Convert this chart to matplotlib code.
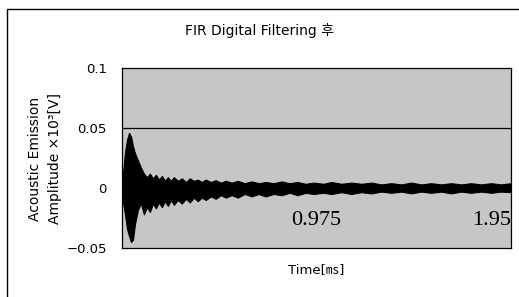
import matplotlib
matplotlib.use('Agg')
import matplotlib.pyplot as plt
from matplotlib.patches import Rectangle

plt.rcParams['font.family'] = ['DejaVu Sans', 'Noto Sans CJK KR']

# envelope of the filtered AE waveform (time in ms)
time_ms = [0.000, 0.005, 0.015, 0.025, 0.035, 0.045, 0.055, 0.065, 0.080, 0.095,
           0.110, 0.125, 0.140, 0.155, 0.170, 0.185, 0.200, 0.215, 0.230, 0.245,
           0.260, 0.280, 0.300, 0.320, 0.340, 0.360, 0.380, 0.400, 0.420, 0.445,
           0.470, 0.495, 0.520, 0.550, 0.580, 0.615, 0.650, 0.685, 0.720, 0.760,
           0.800, 0.840, 0.880, 0.920, 0.960, 1.010, 1.050, 1.100, 1.150, 1.200,
           1.250, 1.300, 1.350, 1.400, 1.450, 1.500, 1.550, 1.600, 1.650, 1.700,
           1.750, 1.800, 1.850, 1.900, 1.950]
upper = [0.0, 0.012, 0.030, 0.040, 0.046, 0.043, 0.035, 0.029, 0.023, 0.017,
         0.012, 0.009, 0.012, 0.008, 0.011, 0.007, 0.010, 0.006, 0.009, 0.006,
         0.009, 0.006, 0.008, 0.005, 0.008, 0.006, 0.007, 0.005, 0.007, 0.005,
         0.0065, 0.0045, 0.006, 0.0045, 0.006, 0.004, 0.0055, 0.004, 0.005, 0.004,
         0.0055, 0.004, 0.005, 0.0035, 0.0045, 0.0035, 0.005, 0.0035, 0.0045, 0.0035,
         0.0045, 0.003, 0.004, 0.003, 0.0045, 0.003, 0.004, 0.003, 0.004, 0.003,
         0.004, 0.003, 0.004, 0.003, 0.004]
lower = [0.0, -0.012, -0.022, -0.034, -0.040, -0.045, -0.043, -0.030, -0.018, -0.013,
         -0.022, -0.016, -0.020, -0.013, -0.017, -0.012, -0.016, -0.011, -0.015, -0.010,
         -0.014, -0.010, -0.013, -0.009, -0.012, -0.008, -0.011, -0.008, -0.010, -0.007,
         -0.009, -0.006, -0.008, -0.006, -0.008, -0.005, -0.007, -0.005, -0.007, -0.005,
         -0.006, -0.004, -0.006, -0.004, -0.005, -0.004, -0.005, -0.0035, -0.005, -0.0035,
         -0.0045, -0.003, -0.004, -0.003, -0.0045, -0.003, -0.004, -0.003, -0.0045, -0.003,
         -0.004, -0.003, -0.004, -0.003, -0.0035]

y_ticks = [-0.05, 0, 0.05, 0.1]
y_labels = ['\u22120.05', '0', '0.05', '0.1']
x_marks = [0.975, 1.95]
x_mark_labels = ['0.975', '1.95']

fig = plt.figure(figsize=(5.19, 2.97), dpi=100)
ax = fig.add_axes([122 / 519, 1 - 248 / 297, 389 / 519, 180 / 297])
ax.set_facecolor('#c6c6c6')

ax.fill_between(time_ms, lower, upper, color='black', lw=0.8)
ax.axhline(0.05, color='black', lw=0.9)

ax.set_xlim(0, 1.95)
ax.set_ylim(-0.05, 0.1)
ax.set_xticks([])
ax.set_yticks(y_ticks)
ax.set_yticklabels(y_labels, fontsize=9.5)
ax.tick_params(axis='y', length=0, pad=11)
for s in ax.spines.values():
    s.set_color('black')
    s.set_linewidth(0.9)

# time values are printed inside the plot area
ax.text(x_marks[0], -0.031, x_mark_labels[0], ha='center', va='baseline',
        family='Liberation Serif', fontsize=16)
ax.text(x_marks[1], -0.031, x_mark_labels[1], ha='right', va='baseline',
        family='Liberation Serif', fontsize=16)

fig.text(0.5, 1 - 30 / 297, 'FIR Digital Filtering 후', ha='center', va='center', fontsize=10)
fig.text(35 / 519, 1 - 159 / 297, 'Acoustic Emission', rotation=90, ha='center', va='center', fontsize=10)
fig.text(55 / 519, 1 - 159 / 297, 'Amplitude \u00d710\u00b3[V]', rotation=90, ha='center', va='center', fontsize=10)
fig.text(316.5 / 519, 1 - 270 / 297, 'Time[㎳]', ha='center', va='center', fontsize=9.5)

# outer chart border
fig.patches.append(Rectangle((7 / 519, -0.1), 1.2, 1 - 9 / 297 + 0.1, transform=fig.transFigure,
                             fill=False, edgecolor='black', lw=1.0))

fig.savefig('out.png', dpi=100)
